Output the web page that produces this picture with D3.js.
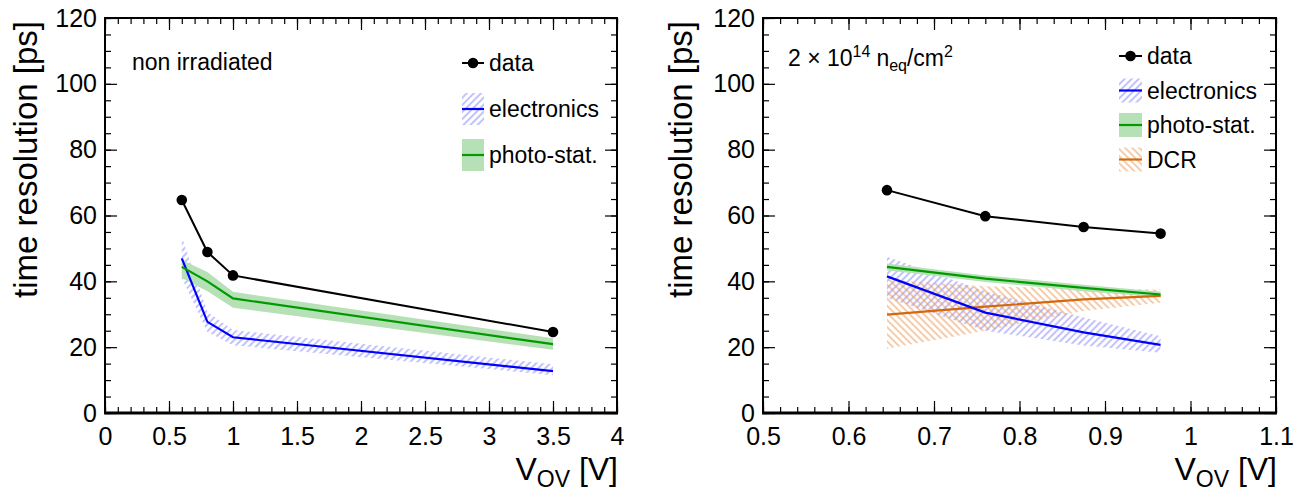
<!DOCTYPE html>
<html><head><meta charset="utf-8">
<script src="https://cdn.jsdelivr.net/npm/d3@7"></script>
<style>body{margin:0;background:#fff}text{font-family:"Liberation Sans",Arial,Helvetica,sans-serif;fill:#000}</style>
</head><body><svg id="c" width="1299" height="491"></svg>
<script>
// ---------- data ----------
const xNonIrr       = [0.6, 0.8, 1.0, 3.5];
const dataNonIrr    = [64.7, 48.9, 41.8, 24.6];
const elecNonIrr    = [47.0, 27.7, 23.0, 12.7];
const elecNonIrrLo  = [41.0, 24.6, 20.6, 11.5];
const elecNonIrrHi  = [53.5, 30.7, 25.2, 14.8];
const photoNonIrr   = [44.4, 40.0, 34.8, 20.9];
const photoNonIrrLo = [41.0, 37.0, 32.0, 19.2];
const photoNonIrrHi = [46.5, 42.8, 36.8, 22.7];

const xIrr          = [0.645, 0.76, 0.875, 0.965];
const dataIrr       = [67.7, 59.8, 56.5, 54.5];
const elecIrr       = [41.5, 30.5, 24.5, 20.7];
const elecIrrLo     = [35.0, 25.0, 20.5, 18.3];
const elecIrrHi     = [47.5, 37.0, 29.0, 23.3];
const photoIrr      = [44.4, 40.8, 38.0, 36.0];
const photoIrrLo    = [43.4, 39.8, 37.0, 35.2];
const photoIrrHi    = [45.4, 41.8, 39.0, 36.8];
const dcrIrr        = [29.9, 32.3, 34.5, 35.6];
const dcrIrrLo      = [19.5, 25.0, 31.0, 33.5];
const dcrIrrHi      = [40.5, 38.5, 37.8, 37.5];

const yTickLabels     = [0, 20, 40, 60, 80, 100, 120];
const xTickLabelsLeft = [0, 0.5, 1, 1.5, 2, 2.5, 3, 3.5, 4];
const xTickLabelsRight= [0.5, 0.6, 0.7, 0.8, 0.9, 1, 1.1];
const legendLeft  = ["data", "electronics", "photo-stat."];
const legendRight = ["data", "electronics", "photo-stat.", "DCR"];

// ---------- style ----------
const C = {data:"#000", elec:"#0000ff", elecHatch:"#8585ff", photo:"#009900", photoFill:"#b6e1b6", dcr:"#d2690f", dcrHatch:"#eb9a55"};

const svg = d3.select("#c");
svg.append("rect").attr("width",1299).attr("height",491).attr("fill","#fff");
const defs = svg.append("defs");
function hatch(id, color, angle){
  const p = defs.append("pattern").attr("id",id).attr("patternUnits","userSpaceOnUse")
    .attr("width",5).attr("height",5).attr("patternTransform",`rotate(${angle})`);
  p.append("line").attr("x1",1).attr("y1",-1).attr("x2",1).attr("y2",6).attr("stroke",color).attr("stroke-width",1);
}
hatch("hElec", C.elecHatch, 45);
hatch("hDcr", C.dcrHatch, -45);

function panel(cfg){
  const g = svg.append("g");
  const x = d3.scaleLinear().domain(cfg.xDomain).range([cfg.left, cfg.right]);
  const y = d3.scaleLinear().domain([0,120]).range([cfg.bottom, cfg.top]);
  const area = (xs, lo, hi) => d3.area().x((d,i)=>x(xs[i])).y0((d,i)=>y(lo[i])).y1((d,i)=>y(hi[i]))(xs);
  const line = (xs, v) => d3.line().x((d,i)=>x(xs[i])).y((d,i)=>y(v[i]))(xs);

  cfg.bands.forEach(b=>{
    g.append("path").attr("d", area(cfg.xs, b.lo, b.hi)).attr("fill", b.fill).attr("stroke","none");
  });
  cfg.lines.forEach(l=>{
    g.append("path").attr("d", line(cfg.xs, l.v)).attr("fill","none").attr("stroke", l.color).attr("stroke-width",2.2);
  });
  g.append("path").attr("d", line(cfg.xs, cfg.data)).attr("fill","none").attr("stroke","#000").attr("stroke-width",2);
  g.selectAll("circle.pt").data(cfg.data).join("circle").attr("class","pt")
    .attr("cx",(d,i)=>x(cfg.xs[i])).attr("cy",d=>y(d)).attr("r",5.3).attr("fill","#000");

  // axes (ticks inward, ROOT style)
  const minorX = d3.range(Math.round((cfg.xDomain[1]-cfg.xDomain[0])/cfg.xMinor)+1).map(i=>cfg.xDomain[0]+i*cfg.xMinor);
  const minorY = d3.range(25).map(i=>i*5);
  const ax = (a)=> {a.selectAll(".domain").remove(); a.selectAll("line").attr("stroke","#000").attr("stroke-width",1.2);};
  g.append("g").attr("transform",`translate(0,${cfg.bottom})`).call(d3.axisBottom(x).tickValues(minorX).tickSize(-6).tickFormat("")).call(ax);
  g.append("g").attr("transform",`translate(0,${cfg.top})`).call(d3.axisTop(x).tickValues(minorX).tickSize(-6).tickFormat("")).call(ax);
  g.append("g").attr("transform",`translate(0,${cfg.top})`).call(d3.axisTop(x).tickValues(cfg.xTicks).tickSize(-12).tickFormat("")).call(ax);
  const bx = g.append("g").attr("transform",`translate(0,${cfg.bottom})`).call(d3.axisBottom(x).tickValues(cfg.xTicks).tickSize(-12).tickPadding(14).tickFormat(d=>String(d))).call(ax);
  bx.selectAll("text").attr("font-size",25).attr("fill","#000").attr("font-family","Liberation Sans, Arial, sans-serif");
  g.append("g").attr("transform",`translate(${cfg.left},0)`).call(d3.axisLeft(y).tickValues(minorY).tickSize(-6).tickFormat("")).call(ax);
  g.append("g").attr("transform",`translate(${cfg.right},0)`).call(d3.axisRight(y).tickValues(minorY).tickSize(-6).tickFormat("")).call(ax);
  g.append("g").attr("transform",`translate(${cfg.right},0)`).call(d3.axisRight(y).tickValues(yTickLabels).tickSize(-12).tickFormat("")).call(ax);
  const ly = g.append("g").attr("transform",`translate(${cfg.left},0)`).call(d3.axisLeft(y).tickValues(yTickLabels).tickSize(-12).tickPadding(8).tickFormat(d=>String(d))).call(ax);
  ly.selectAll("text").attr("font-size",25).attr("fill","#000").attr("font-family","Liberation Sans, Arial, sans-serif");

  // frame
  g.append("rect").attr("x",cfg.left).attr("y",cfg.top).attr("width",cfg.right-cfg.left).attr("height",cfg.bottom-cfg.top)
    .attr("fill","none").attr("stroke","#000").attr("stroke-width",2);
  g.append("line").attr("x1",cfg.left-1).attr("x2",cfg.right+1).attr("y1",cfg.bottom).attr("y2",cfg.bottom).attr("stroke","#000").attr("stroke-width",3);

  // titles
  g.append("text").attr("transform",`translate(${cfg.yTitleX},${cfg.top+3}) rotate(-90)`).attr("text-anchor","end")
    .attr("font-size",33).text("time resolution [ps]");
  const xt = g.append("text").attr("x",cfg.right+1).attr("y",480).attr("text-anchor","end").attr("font-size",32);
  xt.append("tspan").text("V");
  xt.append("tspan").attr("font-size",23).attr("dy",7).text("OV");
  xt.append("tspan").attr("dy",-7).text(" [V]");

  // legend
  const L = cfg.legend;
  cfg.legendItems.forEach((it,i)=>{
    const cy = L.y0 + i*L.dy;
    const lg = g.append("g");
    if(it.fill){
      lg.append("rect").attr("x",L.x).attr("y",cy-L.h/2).attr("width",L.w).attr("height",L.h).attr("fill",it.fill);
    }
    lg.append("line").attr("x1",L.x).attr("x2",L.x+L.w).attr("y1",cy).attr("y2",cy).attr("stroke",it.color).attr("stroke-width",it.marker?2:2.2);
    if(it.marker) lg.append("circle").attr("cx",L.x+L.w/2).attr("cy",cy).attr("r",5.3).attr("fill","#000");
    lg.append("text").attr("x",L.x+L.w+5).attr("y",cy).attr("dy","0.36em").attr("font-size",23).text(it.label);
  });
  return g;
}

const gl = panel({
  left:105, right:617, top:18, bottom:413, xDomain:[0,4], xTicks:xTickLabelsLeft, xMinor:0.1, yTitleX:37,
  xs:xNonIrr, data:dataNonIrr,
  bands:[{lo:elecNonIrrLo, hi:elecNonIrrHi, fill:"url(#hElec)"},{lo:photoNonIrrLo, hi:photoNonIrrHi, fill:C.photoFill}],
  lines:[{v:elecNonIrr, color:C.elec},{v:photoNonIrr, color:C.photo}],
  legend:{x:462, w:22, h:32, y0:63, dy:46},
  legendItems:[
    {label:legendLeft[0], color:"#000", marker:true},
    {label:legendLeft[1], color:C.elec, fill:"url(#hElec)"},
    {label:legendLeft[2], color:C.photo, fill:C.photoFill}]
});
gl.append("text").attr("x",132).attr("y",70).attr("font-size",23).text("non irradiated");

const gr = panel({
  left:763, right:1276, top:18, bottom:413, xDomain:[0.5,1.1], xTicks:xTickLabelsRight, xMinor:0.02, yTitleX:692,
  xs:xIrr, data:dataIrr,
  bands:[{lo:elecIrrLo, hi:elecIrrHi, fill:"url(#hElec)"},{lo:dcrIrrLo, hi:dcrIrrHi, fill:"url(#hDcr)"},{lo:photoIrrLo, hi:photoIrrHi, fill:C.photoFill}],
  lines:[{v:dcrIrr, color:C.dcr},{v:elecIrr, color:C.elec},{v:photoIrr, color:C.photo}],
  legend:{x:1119, w:23, h:24, y0:56, dy:34.5},
  legendItems:[
    {label:legendRight[0], color:"#000", marker:true},
    {label:legendRight[1], color:C.elec, fill:"url(#hElec)"},
    {label:legendRight[2], color:C.photo, fill:C.photoFill},
    {label:legendRight[3], color:C.dcr, fill:"url(#hDcr)"}]
});
const lab = gr.append("text").attr("x",788).attr("y",66).attr("font-size",23);
lab.append("tspan").text("2 \u00d7 10");
lab.append("tspan").attr("font-size",16).attr("dy",-9).text("14");
lab.append("tspan").attr("dy",9).attr("dx",6).text("n");
lab.append("tspan").attr("font-size",16).attr("dy",5).text("eq");
lab.append("tspan").attr("dy",-5).text("/cm");
lab.append("tspan").attr("font-size",16).attr("dy",-9).text("2");
</script></body></html>
